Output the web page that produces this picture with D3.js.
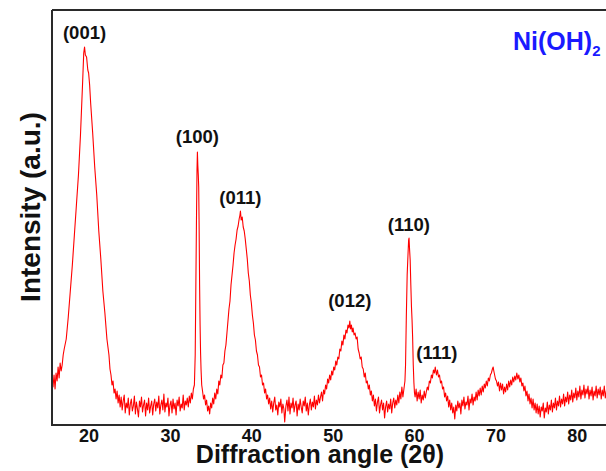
<!DOCTYPE html>
<html><head><meta charset="utf-8">
<script src="https://cdn.jsdelivr.net/npm/d3@7"></script>
<style>html,body{margin:0;padding:0;background:#fff;overflow:hidden}</style>
</head><body>
<svg id="chart" width="606" height="471"></svg>
<script>
// XRD pattern of Ni(OH)2: [2θ (deg), intensity (a.u.)]
const pattern = [
[15.5,45],[15.625,38],[15.75,50],[15.875,36],[16,52],[16.125,44],[16.25,58],[16.375,47],[16.5,62],[16.625,54],
[16.75,60],[16.875,70],[17,76],[17.25,86],[17.5,108],[17.75,134],[18,160],[18.25,190],[18.5,220],[18.75,250],
[19,290],[19.25,340],[19.4,372],[19.5,378],[19.6,370],[19.75,368],[19.9,355],[20,352],[20.125,340],[20.25,322],
[20.5,292],[20.75,258],[21,230],[21.25,194],[21.5,166],[21.75,134],[22,112],[22.25,86],[22.5,70],[22.625,56],
[22.75,50],[22.875,40],[23,44],[23.125,32],[23.25,36],[23.375,26],[23.5,34],[23.625,22],[23.75,30],
[23.875,18],[24,28],[24.125,15],[24.25,24],[24.375,30],[24.5,12],[24.625,22],[24.75,17],[24.875,27],[25,10],
[25.125,21],[25.25,26],[25.375,14],[25.5,19],[25.625,29],[25.75,11],[25.875,23],[26,16],[26.125,8],[26.25,24],
[26.375,18],[26.5,28],[26.625,13],[26.75,20],[26.875,25],[27,9],[27.125,22],[27.25,15],[27.375,27],[27.5,12],
[27.625,19],[27.75,24],[27.875,10],[28,21],[28.125,26],[28.25,14],[28.375,23],[28.5,17],[28.625,29],[28.75,11],
[28.875,20],[29,25],[29.125,15],[29.25,31],[29.375,13],[29.5,22],[29.625,18],[29.75,27],[29.875,9],[30,20],
[30.125,24],[30.25,12],[30.375,26],[30.5,16],[30.625,22],[30.75,10],[30.875,25],[31,19],[31.125,28],[31.25,14],
[31.375,21],[31.5,17],[31.625,30],[31.75,15],[31.875,24],[32,20],[32.125,27],[32.25,18],[32.375,29],[32.5,22],
[32.625,32],[32.75,26],[32.875,36],[33,40],
[33.1,70],[33.18,140],[33.25,200],[33.32,255],[33.37,273],[33.42,260],[33.48,250],[33.53,238],[33.58,200],[33.64,140],
[33.7,100],[33.76,72],[33.82,55],[33.9,40],[34,34],[34.125,26],[34.25,30],[34.375,20],[34.5,25],[34.625,14],
[34.75,19],[34.875,11],[35,22],[35.125,17],[35.25,27],[35.375,21],[35.5,32],[35.625,26],[35.75,36],[35.875,31],
[36,44],[36.125,40],[36.25,50],[36.375,47],[36.5,60],[36.625,62],[36.75,74],[36.875,80],[37,92],[37.125,104],
[37.25,116],[37.375,124],[37.5,140],[37.625,150],[37.75,160],[37.875,172],[38,180],[38.125,186],[38.25,195],[38.375,199],
[38.5,206],[38.6,210],[38.66,214],[38.75,205],[38.875,208],[39,198],[39.125,194],[39.25,186],[39.375,176],[39.5,166],
[39.625,152],[39.75,144],[39.875,130],[40,122],[40.125,110],[40.25,102],[40.375,90],[40.5,85],[40.625,74],[40.75,70],
[40.875,60],[41,58],[41.125,48],[41.25,50],[41.375,40],[41.5,42],[41.625,32],[41.75,36],[41.875,26],
[42,30],[42.125,21],[42.25,27],[42.375,16],[42.5,24],[42.625,13],[42.75,22],[42.875,28],[43,15],[43.125,20],
[43.25,10],[43.375,23],[43.5,18],[43.625,26],[43.75,12],[43.875,21],[44,16],[44.1,3],[44.25,19],[44.375,25],
[44.5,14],[44.625,28],[44.75,11],[44.875,22],[45,17],[45.125,27],[45.25,13],[45.375,20],[45.5,24],[45.625,9],
[45.75,21],[45.875,15],[46,26],[46.125,18],[46.25,12],[46.375,24],[46.5,19],[46.625,28],[46.75,14],[46.875,22],
[47,10],[47.125,20],[47.25,26],[47.375,15],[47.5,23],[47.625,18],[47.75,29],[47.875,16],[48,25],[48.125,20],
[48.25,30],[48.375,22],[48.5,28],[48.625,33],[48.75,24],[48.875,35],
[49,31],[49.125,40],[49.25,36],[49.375,46],[49.5,42],[49.625,50],[49.75,45],[49.875,54],[50,50],[50.125,58],
[50.25,55],[50.375,64],[50.5,60],[50.625,68],[50.75,66],[50.875,76],[51,74],[51.125,84],[51.25,80],[51.375,90],
[51.5,86],[51.625,95],[51.75,92],[51.875,100],[52,97],[52.1,104],[52.2,96],[52.3,100],[52.4,93],[52.5,97],
[52.625,90],[52.75,92],[52.875,86],[53,88],[53.125,76],[53.25,72],[53.375,66],[53.5,68],[53.625,58],[53.75,56],
[53.875,48],[54,52],[54.125,42],[54.25,44],[54.375,36],[54.5,40],[54.625,30],[54.75,34],
[54.875,24],[55,30],[55.125,19],[55.25,26],[55.375,14],[55.5,23],[55.625,28],[55.75,12],[55.875,20],[56,25],
[56.125,15],[56.25,22],[56.375,7],[56.5,18],[56.625,24],[56.75,13],[56.875,21],[57,16],[57.125,26],[57.25,12],
[57.375,22],[57.5,27],[57.625,17],[57.75,25],[57.875,20],[58,30],[58.125,22],[58.25,33],[58.375,26],[58.5,38],
[58.625,28],[58.75,36],[58.875,44],
[58.95,60],[59.05,110],[59.15,150],[59.25,170],[59.33,185],[59.38,187],[59.45,175],[59.52,165],[59.6,140],[59.68,118],
[59.75,105],[59.82,88],[59.9,60],[59.98,42],[60.05,32],[60.125,28],[60.25,36],[60.375,24],[60.5,33],[60.625,26],
[60.75,35],[60.875,22],[61,30],[61.125,25],[61.25,34],[61.375,27],[61.5,33],[61.625,38],[61.75,35],[61.875,44],
[62,42],[62.125,50],[62.25,47],[62.375,55],[62.5,52],[62.6,58],[62.75,50],[62.875,55],[63,48],[63.125,50],
[63.25,42],[63.375,44],[63.5,36],[63.625,38],[63.75,28],[63.875,32],[64,24],[64.125,29],[64.25,18],[64.375,25],
[64.5,15],[64.625,22],[64.75,12],[64.875,18],[65,6],[65.125,20],[65.25,14],[65.375,24],[65.5,17],[65.625,22],
[65.75,11],[65.875,25],[66,19],[66.125,28],[66.25,16],[66.375,23],[66.5,20],[66.625,29],[66.75,15],[66.875,26],
[67,22],[67.125,31],[67.25,20],[67.375,28],[67.5,24],[67.625,33],[67.75,25],[67.875,35],[68,29],[68.125,37],
[68.25,30],[68.375,39],[68.5,33],[68.625,41],[68.75,37],[68.875,44],[69,39],[69.125,47],[69.25,44],[69.375,50],
[69.5,52],[69.625,56],[69.72,58],[69.8,54],[69.9,50],[70,46],[70.125,44],[70.25,39],[70.375,43],[70.5,34],
[70.625,42],[70.75,35],[70.875,41],[71,31],[71.125,38],[71.25,33],[71.375,41],[71.5,35],[71.625,44],[71.75,38],
[71.875,45],[72,40],[72.125,48],[72.25,43],[72.375,49],[72.5,45],[72.625,52],[72.75,46],[72.875,50],[73,43],
[73.125,47],[73.25,39],[73.375,42],[73.5,34],[73.625,39],[73.75,29],[73.875,34],[74,24],[74.125,31],[74.25,21],
[74.375,27],[74.5,17],[74.625,26],[74.75,15],[74.875,22],[75,12],[75.125,21],[75.25,11],[75.375,19],[75.5,8],
[75.625,18],[75.75,14],[75.875,22],[76,7],[76.125,17],[76.25,13],[76.375,23],[76.5,11],[76.625,20],[76.75,15],
[76.875,25],[77,13],[77.125,22],[77.25,17],[77.375,27],[77.5,15],[77.625,24],[77.75,19],[77.875,29],[78,18],
[78.125,26],[78.25,21],[78.375,31],[78.5,19],[78.625,28],[78.75,23],[78.875,33],[79,21],[79.125,30],[79.25,25],
[79.375,35],[79.5,23],[79.625,32],[79.75,27],[79.875,37],[80,25],[80.125,34],[80.25,28],[80.375,39],[80.5,26],
[80.625,35],[80.75,30],[80.875,40],[81,27],[81.125,36],[81.25,31],[81.375,39],[81.5,26],[81.625,35],[81.75,29],
[81.875,38],[82,25],[82.125,34],[82.25,29],[82.375,39],[82.5,27],[82.625,36],[82.75,30],[82.875,38],[83,26],
[83.125,35],[83.25,29],[83.375,39],[83.5,27],[83.625,34],[83.75,26],[83.875,36],[84,29],[84.125,37],[84.25,27],
[84.5,34],[84.75,26],[85,31]
];
const xTicks = [20, 30, 40, 50, 60, 70, 80];
const peakLabels = ["(001)", "(100)", "(011)", "(012)", "(110)", "(111)"];
const peakAngles = [19.5, 33.37, 38.66, 52.1, 59.36, 62.8];
const peakLabelHeights = [386, 282, 221, 118, 194, 66];

const svg = d3.select("#chart");
const mL = 52, mT = 10, mR = 617.5, mB = 425;
const x = d3.scaleLinear().domain([15.5, 85]).range([mL, mR]);
const y = d3.scaleLinear().domain([0, 415]).range([mB, mT]);
const FONT = "Liberation Sans, Arial, sans-serif";

svg.append("path")
  .datum(pattern)
  .attr("fill", "none")
  .attr("stroke", "#ff0000")
  .attr("stroke-width", 1.1)
  .attr("stroke-linejoin", "round")
  .attr("d", d3.line().x(d => x(d[0])).y(d => y(d[1])));

// frame
svg.append("path")
  .attr("stroke", "#2a2a2a").attr("stroke-width", 2).attr("fill", "none")
  .attr("d", `M${mL},${mT}H${mR}M${mL},${mT}V${mB}H${mR}`);

// x axis labels
const xAxis = d3.axisBottom(x).tickValues(xTicks).tickSize(0).tickPadding(0).tickFormat(d3.format("d"));
const gx = svg.append("g").attr("transform", `translate(0,${mB})`).call(xAxis);
gx.select(".domain").remove();
gx.selectAll("text")
  .attr("y", 16.5).attr("dy", 0)
  .attr("font-family", FONT)
  .attr("font-weight", "bold").attr("font-size", 18).attr("fill", "#111");

svg.append("text")
  .attr("x", 320).attr("y", 463)
  .attr("text-anchor", "middle")
  .attr("font-family", FONT)
  .attr("font-weight", "bold").attr("font-size", 25).attr("fill", "#111")
  .text("Diffraction angle (2θ)");

svg.append("text")
  .attr("transform", "translate(40,207) rotate(-90)")
  .attr("text-anchor", "middle")
  .attr("font-family", FONT)
  .attr("font-weight", "bold").attr("font-size", 28).attr("fill", "#111")
  .text("Intensity (a.u.)");

// peak labels
svg.append("g").selectAll("text")
  .data(peakLabels)
  .join("text")
  .attr("x", (d, i) => x(peakAngles[i]))
  .attr("y", (d, i) => y(peakLabelHeights[i]))
  .attr("text-anchor", "middle")
  .attr("font-family", FONT)
  .attr("font-weight", "bold").attr("font-size", 18.5).attr("fill", "#111")
  .text(d => d);

const t = svg.append("text")
  .attr("x", 513).attr("y", 50)
  .attr("font-family", FONT)
  .attr("font-weight", "bold").attr("font-size", 25).attr("fill", "#1a1aff");
t.append("tspan").text("Ni(OH)");
t.append("tspan").attr("font-size", 15).attr("dy", 6).text("2");
</script>
</body></html>
